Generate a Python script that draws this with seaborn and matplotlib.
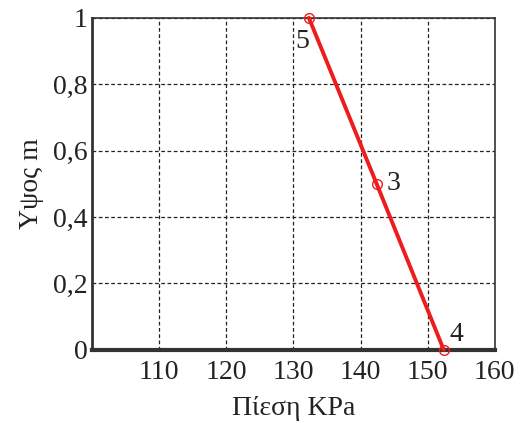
import numpy as np
import pandas as pd
import matplotlib
matplotlib.use('Agg')
import matplotlib.pyplot as plt
import seaborn as sns

# data
pressure = [132.3, 142.4, 152.4]
height = [1.0, 0.5, 0.0]
point_labels = ['5', '3', '4']
x_ticks = [110, 120, 130, 140, 150, 160]
y_ticks = [0, 0.2, 0.4, 0.6, 0.8, 1.0]
y_ticklabels = ['0', '0,2', '0,4', '0,6', '0,8', '1']

df = pd.DataFrame({'pressure': pressure, 'height': height})

sns.set_theme(style='white')
plt.rcParams['font.family'] = ['Liberation Serif', 'DejaVu Serif']

fig = plt.figure(figsize=(5.23, 4.23), dpi=100)
ax = fig.add_axes([0.176, 0.173, 0.770, 0.785])

sns.lineplot(data=df, x='pressure', y='height', ax=ax, color='#ee1c1c',
             linewidth=2.8, marker='o', markersize=7, markerfacecolor='none',
             markeredgecolor='#ee1c1c', markeredgewidth=1.0, clip_on=False,
             zorder=5, sort=False)

ax.set_xlim(100, 160)
ax.set_ylim(0, 1)
ax.set_xticks(x_ticks)
ax.set_yticks(y_ticks)
ax.set_yticklabels(y_ticklabels)
ax.tick_params(axis='both', length=0, labelsize=20, colors='#222222')
ax.tick_params(axis='x', pad=7)
ax.tick_params(axis='y', pad=3)

ax.grid(True, linestyle=(0, (3, 2)), color='#222222', linewidth=0.9)
ax.set_axisbelow(True)

for side in ['top', 'right']:
    ax.spines[side].set_linewidth(1.2)
    ax.spines[side].set_color('#333333')
ax.spines['left'].set_linewidth(2.0)
ax.spines['left'].set_color('#333333')
ax.spines['bottom'].set_linewidth(3.0)
ax.spines['bottom'].set_color('#333333')

ax.set_xlabel('Πίεση KPa', fontsize=20, color='#222222', labelpad=8)
ax.set_ylabel('Υψος m', fontsize=20, color='#222222', labelpad=7)

offsets = [(-5, -17), (12, 0), (9, 11)]
for x, y, lab, off in zip(pressure, height, point_labels, offsets):
    ax.annotate(lab, (x, y), xytext=off, textcoords='offset points',
                ha='center', va='center', fontsize=20, color='#222222')

fig.savefig('out.png', dpi=100)
